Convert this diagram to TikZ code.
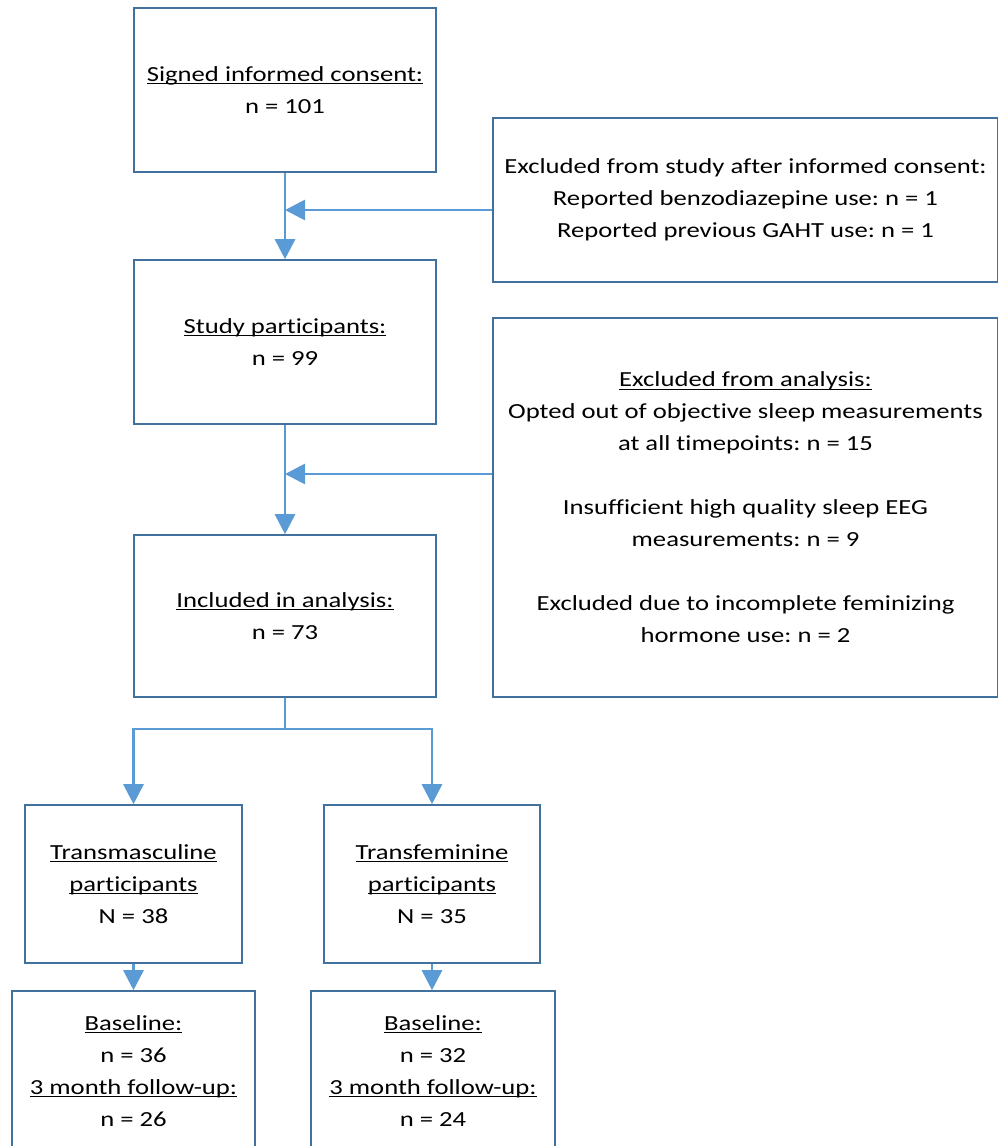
\documentclass[tikz,border=0pt]{standalone}
\usepackage{fontspec}
\setmainfont{Carlito}[FakeStretch=1.24, Ligatures={NoCommon}]
\usetikzlibrary{arrows.meta}
\definecolor{boxc}{RGB}{65,113,156}
\definecolor{linec}{RGB}{91,155,213}
\newcommand{\ulx}[1]{\setbox0\hbox{#1}\rlap{\rule[-3pt]{\wd0}{1.2pt}}\box0}
\frenchspacing
\begin{document}
\begin{tikzpicture}[x=1pt,y=-1pt,
  box/.style={draw=boxc, line width=1.6pt, rectangle, inner sep=0pt, align=center,
    font=\fontsize{21.5}{32}\selectfont},
  conn/.style={draw=linec, line width=2.8pt},
  arr/.style={conn, -{Triangle[length=20pt,width=20pt]}}]
\useasboundingbox (0,0) rectangle (997,1146);
\fill[white] (0,0) rectangle (997,1146);
\node[box, minimum width=302pt, minimum height=164pt] (consent) at (285,90)
  {\ulx{Signed informed consent:}\\n = 101};
\node[box, minimum width=505pt, minimum height=164pt] (excl1) at (745.5,200)
  {Excluded from study after informed consent:\\Reported benzodiazepine use: n = 1\\Reported previous GAHT use: n = 1};
\node[box, minimum width=302pt, minimum height=164pt] (part) at (285,342)
  {\ulx{Study participants:}\\n = 99};
\node[box, minimum width=505pt, minimum height=379pt] (excl2) at (745.5,507.5)
  {\ulx{Excluded from analysis:}\\Opted out of objective sleep measurements\\at all timepoints: n = 15\\[32pt]Insufficient high quality sleep EEG\\measurements: n = 9\\[32pt]Excluded due to incomplete feminizing\\hormone use: n = 2};
\node[box, minimum width=302pt, minimum height=162pt] (incl) at (285,616)
  {\ulx{Included in analysis:}\\n = 73};
\node[box, minimum width=217pt, minimum height=158pt] (tm) at (133.5,884)
  {\ulx{Transmasculine}\\\ulx{participants}\\N = 38};
\node[box, minimum width=216pt, minimum height=158pt] (tf) at (432,884)
  {\ulx{Transfeminine}\\\ulx{participants}\\N = 35};
\node[box, minimum width=243pt, minimum height=160pt] (bl1) at (133.5,1071)
  {\ulx{Baseline:}\\n = 36\\\ulx{3 month follow-up:}\\n = 26};
\node[box, minimum width=244pt, minimum height=160pt] (bl2) at (433,1071)
  {\ulx{Baseline:}\\n = 32\\\ulx{3 month follow-up:}\\n = 24};
\coordinate (j1) at (285,210);
\coordinate (j2) at (285,474);
\coordinate (br) at (285,729);
\draw[arr] (consent.south) -- (part.north);
\draw[arr] (excl1.west |- j1) -- (j1);
\draw[arr] (part.south) -- (incl.north);
\draw[arr] (excl2.west |- j2) -- (j2);
\draw[conn] (incl.south) -- (br);
\draw[arr] (br) -| (tm.north);
\draw[arr] (br) -| (tf.north);
\draw[arr] (tm.south) -- (bl1.north);
\draw[arr] (tf.south) -- (tf.south |- bl2.north);
\end{tikzpicture}
\end{document}
